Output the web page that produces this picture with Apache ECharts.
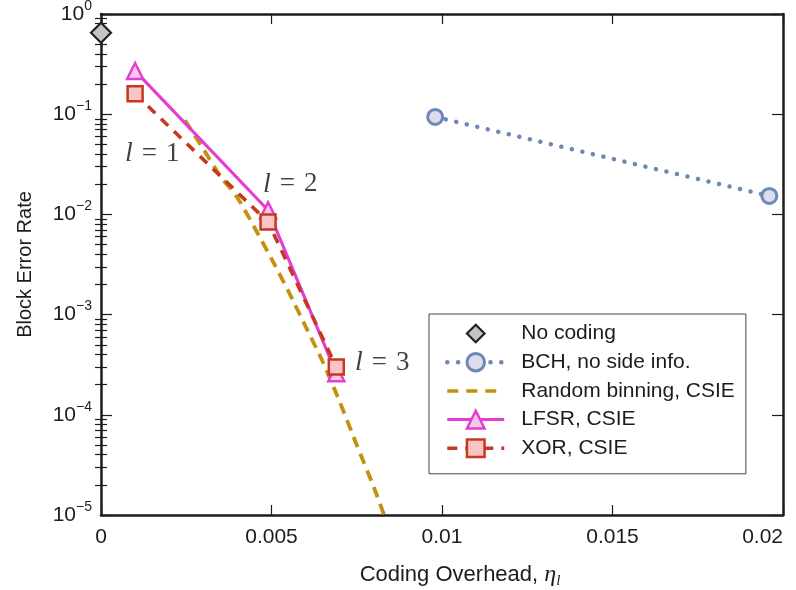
<!DOCTYPE html>
<html>
<head>
<meta charset="utf-8">
<script src="https://cdn.jsdelivr.net/npm/echarts@6/dist/echarts.min.js"></script>
<style>
  html, body { margin: 0; padding: 0; background: #fff; }
  #chart { width: 796px; height: 590px; }
</style>
</head>
<body>
<div id="chart"></div>
<script>
// values
const noCodingX = [0]
const noCodingY = [0.65]
const bchX = [0.0098, 0.0196]
const bchY = [0.094, 0.0153]
const binX = [0.00246, 0.003, 0.0035, 0.004, 0.0045, 0.005, 0.0055, 0.006, 0.0065, 0.007, 0.0075, 0.008, 0.0083]
const binY = [0.087, 0.045, 0.024, 0.0147, 0.0074, 0.0036, 0.0017, 7.6e-4, 3.4e-4, 1.35e-4, 5.0e-5, 1.9e-5, 1.0e-5]
const lfsrX = [0.001, 0.0049, 0.0069]
const lfsrY = [0.27, 0.011, 2.6e-4]
const xorX = [0.001, 0.0049, 0.0069]
const xorY = [0.16, 0.0084, 3.0e-4]

const noteX = [0.0015, 0.00555, 0.00825]
const noteY = [0.04, 0.02, 3.3e-4]
const noteText = ['1', '2', '3']

const xTicks = [0, 0.005, 0.01, 0.015, 0.02]
const yMin = 1e-5
const yMax = 1

const names = ['No coding', 'BCH, no side info.', 'Random binning, CSIE', 'LFSR, CSIE', 'XOR, CSIE']

const pairs = (xs, ys) => xs.map((x, i) => [x, ys[i]])

const minorTicks = []
for (let k = -5; k < 0; k++) {
  for (let m = 2; m <= 9; m++) minorTicks.push(m * Math.pow(10, k))
}
const majorTicks = [1e-5, 1e-4, 1e-3, 1e-2, 1e-1, 1]

const FONT = 'Liberation Sans'
const INK = '#1c1c1c'
const BCH = '#6d88b8'
const BIN = '#c4910f'
const LFSR = '#e33ecf'
const XOR = '#c8381f'

const chart = echarts.init(document.getElementById('chart'))

const xBase = {
  type: 'value',
  min: xTicks[0],
  max: xTicks[xTicks.length - 1],
  interval: 0.005,
  splitLine: { show: false },
  axisLine: { onZero: false, lineStyle: { color: INK, width: 2.5 } },
  axisTick: { inside: true, length: 10, lineStyle: { color: INK, width: 1.2 } }
}

const yBase = {
  type: 'log',
  logBase: 10,
  min: yMin,
  max: yMax,
  splitLine: { show: false },
  axisLabel: { show: false },
  axisLine: { show: false }
}

chart.setOption({
  animation: false,
  grid: { left: 101, right: 13, top: 14, bottom: 75, outerBoundsMode: 'none', containLabel: false },
  xAxis: [
    {
      ...xBase,
      position: 'bottom',
      name: '{t|Coding Overhead, }{e|η}{s|l}',
      nameLocation: 'middle',
      nameGap: 46,
      nameTextStyle: {
        padding: [0, 0, 0, 36],
        rich: {
          t: { fontFamily: FONT, fontSize: 22, color: INK, lineHeight: 28 },
          e: { fontFamily: 'Liberation Serif', fontStyle: 'italic', fontSize: 24, color: INK, lineHeight: 28 },
          s: { fontFamily: 'Liberation Serif', fontStyle: 'italic', fontSize: 15, color: INK, verticalAlign: 'bottom' }
        }
      },
      axisLabel: {
        fontFamily: FONT, fontSize: 21, color: INK, margin: 12,
        alignMaxLabel: 'right'
      }
    },
    {
      ...xBase,
      position: 'top',
      axisLabel: { show: false }
    }
  ],
  yAxis: [
    {
      ...yBase,
      position: 'left',
      axisLine: { show: true, onZero: false, lineStyle: { color: INK, width: 2.5 } },
      axisTick: { inside: true, length: 11, lineStyle: { color: INK, width: 1.2 } },
      name: 'Block Error Rate',
      nameLocation: 'middle',
      nameGap: 66,
      nameRotate: 90,
      nameTextStyle: { fontFamily: FONT, fontSize: 20, color: INK },
      axisLabel: {
        show: true,
        margin: 9,
        formatter: v => {
          const e = Math.round(Math.log10(v))
          return '{b|10}{s|' + (e < 0 ? '\u2212' + (-e) : e) + '}'
        },
        rich: {
          b: { fontFamily: FONT, fontSize: 21, color: INK, lineHeight: 30 },
          s: { fontFamily: FONT, fontSize: 14, color: INK, verticalAlign: 'top' }
        }
      }
    },
    {
      ...yBase,
      position: 'left',
      axisTick: { inside: true, length: 6, customValues: minorTicks, lineStyle: { color: INK, width: 1.2 } }
    },
    {
      ...yBase,
      position: 'right',
      axisLine: { show: true, onZero: false, lineStyle: { color: INK, width: 2.5 } },
      axisTick: { inside: true, length: 11, customValues: majorTicks, lineStyle: { color: INK, width: 1.2 } }
    },
    {
      ...yBase,
      position: 'right',
      axisTick: { inside: true, length: 6, customValues: minorTicks, lineStyle: { color: INK, width: 1.2 } }
    }
  ],
  legend: {
    data: [
      { name: names[0], itemStyle: { borderWidth: 2.2 } },
      { name: names[1], lineStyle: { width: 4.5, cap: 'round', type: [0.1, 10.7] }, itemStyle: { borderWidth: 3 } },
      { name: names[2], lineStyle: { width: 3.5, type: [11, 8] }, itemStyle: { opacity: 0 } },
      { name: names[3], lineStyle: { width: 3 }, itemStyle: { borderWidth: 2.5 } },
      { name: names[4], lineStyle: { width: 3.5, type: [10, 8] }, itemStyle: { borderWidth: 2.5 } }
    ],
    orient: 'vertical',
    left: 429,
    top: 314,
    itemWidth: 57,
    itemHeight: 22,
    itemGap: 7.7,
    padding: [9, 11, 15, 16],
    backgroundColor: '#fff',
    borderColor: '#444',
    borderWidth: 1,
    borderRadius: 0,
    selectedMode: false,
    textStyle: { fontFamily: FONT, fontSize: 21, color: INK, padding: [0, 0, 0, 12] }
  },
  series: [
    {
      name: names[0],
      type: 'line',
      data: pairs(noCodingX, noCodingY),
      symbol: 'diamond',
      symbolSize: 20,
      lineStyle: { opacity: 0 },
      itemStyle: { color: '#c4c4c4', borderColor: '#222', borderWidth: 2.2 },
      z: 5
    },
    {
      name: names[1],
      type: 'line',
      data: pairs(bchX, bchY),
      symbol: 'circle',
      symbolSize: 15,
      lineStyle: { color: BCH, width: 4.5, type: [0.1, 10.7], cap: 'round' },
      itemStyle: { color: '#dcdcea', borderColor: BCH, borderWidth: 3 }
    },
    {
      name: names[2],
      type: 'line',
      data: pairs(binX, binY),
      showSymbol: false,
      smooth: 0.2,
      lineStyle: { color: BIN, width: 3.8, type: [11, 7] },
      itemStyle: { color: BIN }
    },
    {
      name: names[3],
      type: 'line',
      data: pairs(lfsrX, lfsrY),
      symbol: 'triangle',
      symbolSize: 16,
      lineStyle: { color: LFSR, width: 3.2 },
      itemStyle: { color: '#f7c8ec', borderColor: LFSR, borderWidth: 2.5 }
    },
    {
      name: names[4],
      type: 'line',
      data: pairs(xorX, xorY),
      symbol: 'rect',
      symbolSize: 15,
      lineStyle: { color: XOR, width: 3.6, type: [10, 8] },
      itemStyle: { color: '#f8c6c6', borderColor: XOR, borderWidth: 2.5 }
    },
    {
      name: 'notes',
      type: 'scatter',
      data: pairs(noteX, noteY).map((p, i) => ({ value: p, label: { formatter: '{i|l}{n| \u200A=\u200A ' + noteText[i] + '}' } })),
      symbolSize: 0,
      silent: true,
      label: {
        show: true,
        position: 'inside',
        rich: {
          i: { fontFamily: 'Liberation Serif', fontStyle: 'italic', fontSize: 28, color: '#111' },
          n: { fontFamily: 'Liberation Serif', fontSize: 27, color: '#111' }
        }
      }
    }
  ]
})
</script>
</body>
</html>
